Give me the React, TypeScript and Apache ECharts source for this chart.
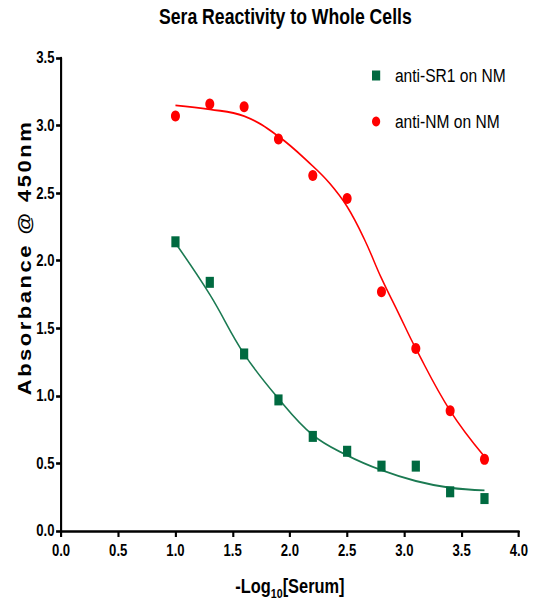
import React, { useEffect, useRef } from "react";
import * as echarts from "echarts";

const chartTitle = "Sera Reactivity to Whole Cells";
const yAxisTitle = "Absorbance @ 450nm";
const xAxisTitleMain = "-Log";
const xAxisTitleSub = "10";
const xAxisTitleEnd = "[Serum]";
const seriesNames = ["anti-SR1 on NM", "anti-NM on NM"];

// measured points
const dilutions = [1.0, 1.3, 1.6, 1.9, 2.2, 2.5, 2.8, 3.1, 3.4, 3.7];
const sr1Values = [2.14, 1.84, 1.31, 0.97, 0.7, 0.59, 0.48, 0.48, 0.29, 0.24];
const nmValues = [3.07, 3.16, 3.14, 2.9, 2.63, 2.46, 1.77, 1.35, 0.89, 0.53];

// fitted curves
const sr1CurveX = [1.0, 1.3, 1.6, 1.9, 2.2, 2.5, 2.8, 3.1, 3.4, 3.7];
const sr1CurveY = [2.13, 1.75, 1.31, 0.98, 0.71, 0.56, 0.45, 0.37, 0.32, 0.3];
const nmCurveX = [1.0, 1.3, 1.6, 1.9, 2.2, 2.35, 2.5, 2.65, 2.8, 2.95, 3.1, 3.4, 3.7];
const nmCurveY = [3.15, 3.12, 3.07, 2.92, 2.7, 2.57, 2.4, 2.16, 1.87, 1.61, 1.35, 0.89, 0.55];

const xMin = 0;
const xMax = 4;
const xStep = 0.5;
const yMin = 0;
const yMax = 3.5;
const yStep = 0.5;

const GREEN = "#006A40";
const GREEN_LINE = "#1B7A52";
const RED = "#FF0000";
const FONT = '"Liberation Sans", Arial, sans-serif';

// the reference is drawn with horizontally condensed lettering
const SX = 0.82;
const W = 534;
const H = 602;
const WIDE = W / SX;

const pairs = (xs: number[], ys: number[]) => xs.map((x, i) => [x, ys[i]]);

export default function App() {
  const ref = useRef<HTMLDivElement | null>(null);

  useEffect(() => {
    if (!ref.current) return;
    const chart = echarts.init(ref.current, undefined, { renderer: "svg" });
    const axisCommon = {
      type: "value" as const,
      splitLine: { show: false },
      axisLine: { show: true, lineStyle: { color: "#000", width: 2.6 } },
      axisTick: { show: true, length: 6, lineStyle: { color: "#000", width: 2.6 } },
      axisLabel: {
        color: "#000",
        fontFamily: FONT,
        fontWeight: "bold" as const,
        fontSize: 16,
        formatter: (v: number) => v.toFixed(1),
      },
    };
    chart.setOption({
      animation: false,
      backgroundColor: "#fff",
      title: {
        text: chartTitle,
        left: 159 / SX,
        top: 0,
        padding: [5, 0, 5, 0],
        textStyle: { fontFamily: FONT, fontWeight: "bold", fontSize: 21.5, color: "#000" },
      },
      legend: {
        orient: "vertical",
        left: 372 / SX,
        top: 66,
        itemWidth: 10,
        itemHeight: 10,
        itemGap: 27,
        padding: 0,
        data: [
          { name: seriesNames[0], icon: "rect" },
          { name: seriesNames[1], icon: "circle" },
        ],
        textStyle: {
          fontFamily: FONT,
          fontSize: 19,
          color: "#000",
          padding: [0, 0, 0, 13],
        },
      },
      grid: { left: 61 / SX, right: 15 / SX, top: 58, bottom: 71, containLabel: false, outerBoundsMode: "none" },
      xAxis: {
        ...axisCommon,
        min: xMin,
        max: xMax,
        interval: xStep,
        axisLabel: { ...axisCommon.axisLabel, margin: 12 },
        name: `{a|${xAxisTitleMain}}{b|${xAxisTitleSub}}{a|${xAxisTitleEnd}}`,
        nameLocation: "middle",
        nameGap: 45,
        nameMoveOverlap: false,
        nameTextStyle: {
          rich: {
            a: { fontFamily: FONT, fontWeight: "bold", fontSize: 20, color: "#000", lineHeight: 24, verticalAlign: "top" },
            b: { fontFamily: FONT, fontWeight: "bold", fontSize: 13, color: "#000", lineHeight: 13, verticalAlign: "top", padding: [11, 0, 0, 0] },
          },
        },
      },
      yAxis: {
        ...axisCommon,
        min: yMin,
        max: yMax,
        interval: yStep,
        axisLabel: { ...axisCommon.axisLabel, margin: 8 },
        name: yAxisTitle,
        nameLocation: "middle",
        nameGap: 33,
        nameMoveOverlap: false,
        nameTextStyle: {
          fontFamily: FONT,
          fontWeight: "bold",
          fontSize: 22,
          color: "#000",
          padding: [0, 0, 0, 74],
        },
      },
      series: [
        {
          name: seriesNames[0] + " fit",
          type: "line",
          data: pairs(sr1CurveX, sr1CurveY),
          smooth: 0.4,
          showSymbol: false,
          silent: true,
          lineStyle: { color: GREEN_LINE, width: 1.8 },
          z: 1,
        },
        {
          name: seriesNames[1] + " fit",
          type: "line",
          data: pairs(nmCurveX, nmCurveY),
          smooth: 0.4,
          showSymbol: false,
          silent: true,
          lineStyle: { color: RED, width: 1.8 },
          z: 1,
        },
        {
          name: seriesNames[0],
          type: "scatter",
          data: pairs(dilutions, sr1Values),
          symbol: "rect",
          symbolSize: [10, 11],
          itemStyle: { color: GREEN, opacity: 1 },
          z: 3,
        },
        {
          name: seriesNames[1],
          type: "scatter",
          data: pairs(dilutions, nmValues),
          symbol: "circle",
          symbolSize: 11,
          itemStyle: { color: RED, opacity: 1 },
          z: 3,
        },
      ],
    });

    const spaceTitle = () => {
      const texts = ref.current?.querySelectorAll("text") || [];
      texts.forEach((t) => {
        if (t.textContent === yAxisTitle) {
          t.setAttribute("letter-spacing", "2.5");
        }
      });
    };
    spaceTitle();
    chart.on("finished", spaceTitle);

    return () => {
      chart.dispose();
    };
  }, []);

  return (
    <div
      style={{ position: "fixed", left: 0, top: 0, width: W, height: H, overflow: "hidden", background: "#fff" }}
    >
      <div
        ref={ref}
        style={{
          width: WIDE,
          height: H,
          transform: `scaleX(${SX})`,
          transformOrigin: "0 0",
          background: "#fff",
        }}
      />
    </div>
  );
}
